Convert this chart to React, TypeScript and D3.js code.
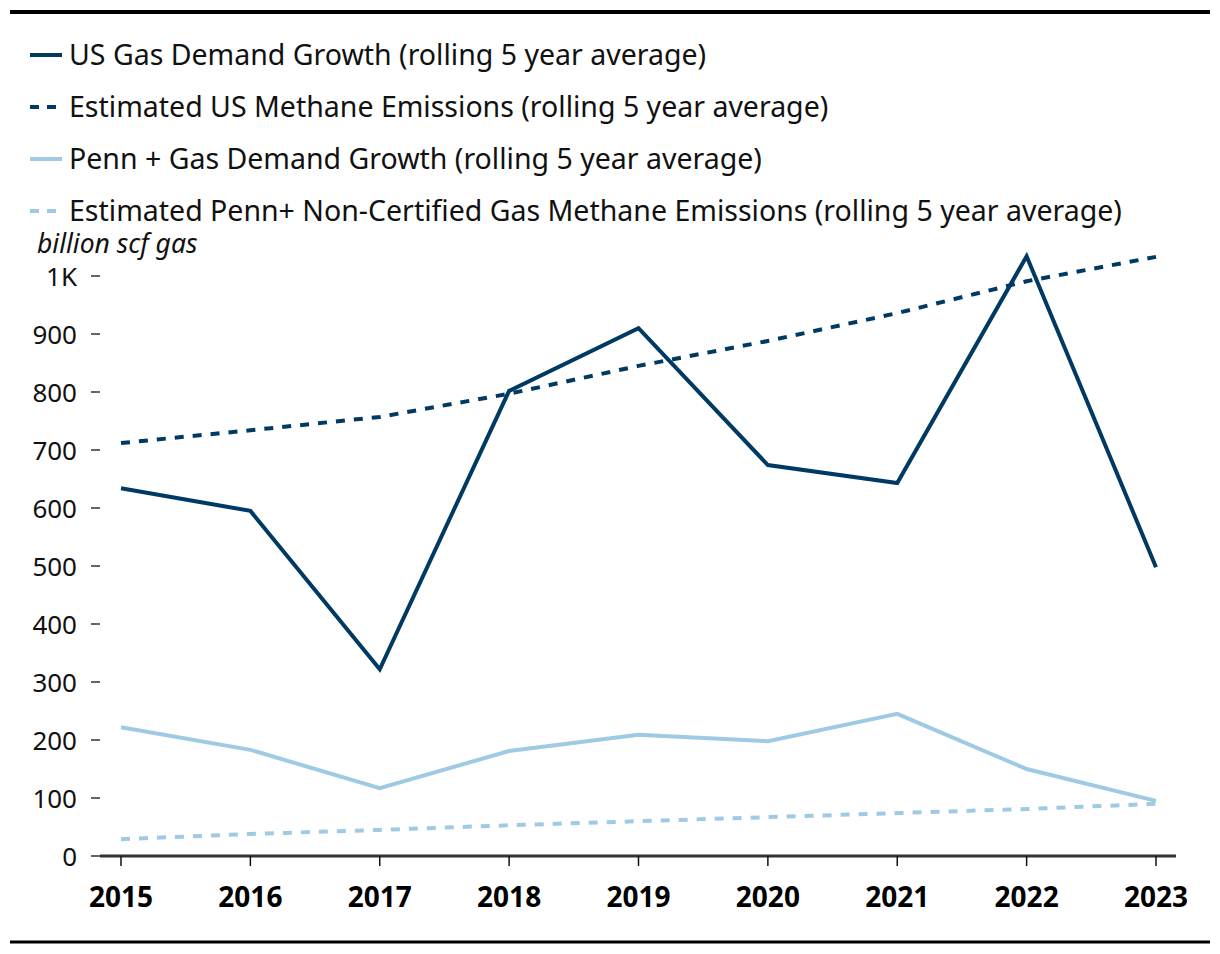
import React from 'react';
import * as d3 from 'd3';

const years = [2015, 2016, 2017, 2018, 2019, 2020, 2021, 2022, 2023];
const usDemand = [634, 595, 322, 802, 910, 674, 643, 1034, 498];
const usMethane = [712, 734, 757, 797, 845, 888, 936, 991, 1033];
const pennDemand = [222, 183, 117, 181, 209, 198, 245, 150, 95];
const pennMethane = [29, 38, 45, 53, 60, 67, 74, 81, 90];
const yTicks = [0, 100, 200, 300, 400, 500, 600, 700, 800, 900, 1000];

const seriesNames = [
  'US Gas Demand Growth (rolling 5 year average)',
  'Estimated US Methane Emissions (rolling 5 year average)',
  'Penn + Gas Demand Growth (rolling 5 year average)',
  'Estimated Penn+ Non-Certified Gas Methane Emissions (rolling 5 year average)',
];

const NAVY = '#003a63';
const LIGHT = '#9ecbe3';
const FONT = '"Noto Sans", "Open Sans", sans-serif';

const App = () => {
  const W = 1220;
  const H = 954;

  const x = d3.scalePoint<number>().domain(years).range([121, 1156]);
  const y = d3.scaleLinear().domain([0, 1000]).range([856, 276]);

  const line = d3.line<number>()
    .x((_, i) => x(years[i]) as number)
    .y(d => y(d));

  const series = [
    { name: seriesNames[0], values: usDemand, color: NAVY, dash: null },
    { name: seriesNames[1], values: usMethane, color: NAVY, dash: '9 9' },
    { name: seriesNames[2], values: pennDemand, color: LIGHT, dash: null },
    { name: seriesNames[3], values: pennMethane, color: LIGHT, dash: '9 9' },
  ];

  return (
    <svg width={W} height={H} style={{ position: 'absolute', left: 0, top: 0, background: '#fff' }} fontFamily={FONT}>
      <line x1={10} x2={1210} y1={12} y2={12} stroke="#000" strokeWidth={4} />
      <line x1={10} x2={1210} y1={942} y2={942} stroke="#000" strokeWidth={3} />

      {/* legend */}
      {series.map((s, i) => {
        const cy = 55 + i * 52;
        return (
          <g key={s.name}>
            <line x1={30} x2={62} y1={cy} y2={cy} stroke={s.color} strokeWidth={4}
              strokeDasharray={s.dash ? '9 8' : undefined} />
            <text x={69} y={cy + 10} fontSize={28.5} fill="#111">{s.name}</text>
          </g>
        );
      })}

      <text x={37} y={253} fontSize={26.5} fontStyle="italic" fill="#111">billion scf gas</text>

      {/* y axis */}
      {yTicks.map(t => (
        <g key={t}>
          <line x1={91} x2={100} y1={y(t)} y2={y(t)} stroke="#333" strokeWidth={1.5} />
          <text x={77} y={y(t) + 9.5} fontSize={26} textAnchor="end" fill="#111">
            {t === 1000 ? '1K' : t}
          </text>
        </g>
      ))}

      {/* x axis */}
      <line x1={100} x2={1176} y1={856} y2={856} stroke="#333" strokeWidth={3} />
      {years.map(yr => (
        <g key={yr}>
          <line x1={x(yr)} x2={x(yr)} y1={856} y2={866} stroke="#111" strokeWidth={1.5} />
          <text x={x(yr)} y={907} fontSize={28} fontWeight="bold" textAnchor="middle" fill="#000">{yr}</text>
        </g>
      ))}

      {/* lines */}
      {series.slice().reverse().map(s => (
        <path key={s.name} d={line(s.values) || ''} fill="none" stroke={s.color} strokeWidth={4}
          strokeDasharray={s.dash || undefined} strokeLinejoin="miter" />
      ))}
    </svg>
  );
};

export default App;
